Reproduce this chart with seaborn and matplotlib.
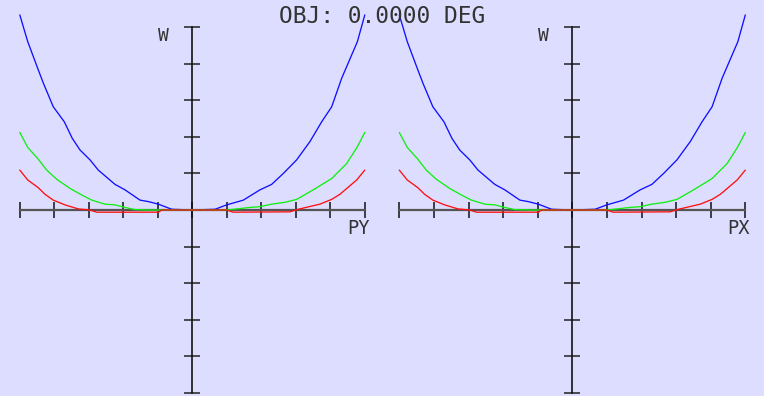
import matplotlib
matplotlib.use("Agg")
import matplotlib.pyplot as plt
import seaborn as sns
import pandas as pd

# ---- data (pupil coordinate, OPD in waves) ----
blue_p = [-1.0, -0.954, -0.893, -0.863, -0.806, -0.742, -0.696, -0.651, -0.593, -0.545,
          -0.448, -0.39, -0.303, -0.255, -0.197, -0.119, 0.0, 0.132, 0.199, 0.296, 0.392,
          0.46, 0.528, 0.605, 0.682, 0.75, 0.808, 0.866, 0.957, 1.0]
blue_w = [5.33, 4.60, 3.83, 3.46, 2.82, 2.41, 1.96, 1.64, 1.37, 1.09,
          0.70, 0.55, 0.27, 0.23, 0.16, 0.02, 0.0, 0.02, 0.14, 0.27, 0.55,
          0.70, 1.00, 1.37, 1.87, 2.41, 2.82, 3.60, 4.60, 5.33]

green_p = [-1.0, -0.954, -0.893, -0.844, -0.786, -0.709, -0.641, -0.583, -0.506, -0.448,
           -0.39, -0.332, -0.245, 0.0, 0.2, 0.334, 0.392, 0.46, 0.537, 0.605, 0.701,
           0.808, 0.895, 0.957, 1.0]
green_w = [2.12, 1.71, 1.39, 1.09, 0.84, 0.59, 0.41, 0.27, 0.16, 0.14,
           0.07, 0.01, 0.0, 0.0, 0.0, 0.07, 0.09, 0.16, 0.21, 0.29, 0.55,
           0.86, 1.27, 1.73, 2.12]

red_p = [-1.0, -0.954, -0.893, -0.854, -0.806, -0.738, -0.661, -0.593, -0.554, -0.197,
         -0.176, 0.0, 0.2, 0.236, 0.566, 0.614, 0.74, 0.808, 0.856, 0.953, 1.0]
red_w = [1.09, 0.82, 0.61, 0.43, 0.27, 0.14, 0.03, 0.0, -0.06, -0.06,
         0.0, 0.0, 0.0, -0.06, -0.05, 0.02, 0.16, 0.29, 0.43, 0.82, 1.09]

x_ticks = [-1.0, -0.8, -0.6, -0.4, -0.2, 0.0, 0.2, 0.4, 0.6, 0.8, 1.0]
y_ticks = [-5, -4, -3, -2, -1, 0, 1, 2, 3, 4, 5]

title_text = "OBJ: 0.0000 DEG"
y_label = "W"
x_labels = ["PY", "PX"]

series = [(blue_p, blue_w, "#1010FF"), (green_p, green_w, "#10F010"), (red_p, red_w, "#FF1010")]

sns.set_style("white")
bg = "#DDDDFF"
plt.rcParams["font.family"] = ["DejaVu Sans Mono", "DejaVu Sans"]
plt.rcParams["xtick.bottom"] = True
plt.rcParams["ytick.left"] = True

W, H = 764, 396
fig = plt.figure(figsize=(W / 100, H / 100), dpi=100, facecolor=bg)

# panel layout in pixels: (panel left px, panel right px, x-axis center px, px per pupil unit)
panels = [(0, 382, 192.3, 172.5), (382, 764, 572.3, 173.0)]
y0_px = 210.0
y_unit = 36.6

for (lpx, rpx, cx, xu), xl in zip(panels, x_labels):
    ax = fig.add_axes([lpx / W, 0, (rpx - lpx) / W, 1])
    ax.set_facecolor("none")
    ax.set_xlim((lpx - cx) / xu, (rpx - cx) / xu)
    ax.set_ylim(-(H - y0_px) / y_unit, y0_px / y_unit)
    for p, w, c in series:
        df = pd.DataFrame({"p": p, "w": w})
        sns.lineplot(data=df, x="p", y="w", ax=ax, color=c, lw=0.95,
                     sort=False, estimator=None, zorder=4, clip_on=False)
    ax.set_xlabel("")
    ax.set_ylabel("")
    for s in ["top", "right"]:
        ax.spines[s].set_visible(False)
    ax.spines["left"].set_position(("data", 0))
    ax.spines["bottom"].set_position(("data", 0))
    ax.spines["left"].set_bounds(-5, 5)
    ax.spines["bottom"].set_bounds(-1, 1)
    ax.spines["left"].set_color("#111111")
    ax.spines["left"].set_linewidth(1.2)
    ax.spines["bottom"].set_color("#555555")
    ax.spines["bottom"].set_linewidth(1.6)
    ax.set_xticks(x_ticks)
    ax.set_yticks(y_ticks)
    ax.set_xticklabels([])
    ax.set_yticklabels([])
    ax.tick_params(axis="x", which="major", bottom=True, top=False, direction="inout",
                   length=11, width=1.1, color="#111111")
    ax.tick_params(axis="y", which="major", left=True, right=False, direction="inout",
                   length=11.5, width=1.1, color="#222222")
    # axis labels
    fig.text((cx - 29) / W, 1 - 36 / H, y_label, ha="center", va="center",
             fontsize=13, color="#333333")
    fig.text((cx + 166) / W, 1 - 229 / H, xl, ha="center", va="center",
             fontsize=13.5, color="#333333")

fig.text(382 / W, 1 - 16.5 / H, title_text, ha="center", va="center",
         fontsize=16.5, color="#333333")

fig.savefig("out.png", dpi=100, facecolor=bg)
